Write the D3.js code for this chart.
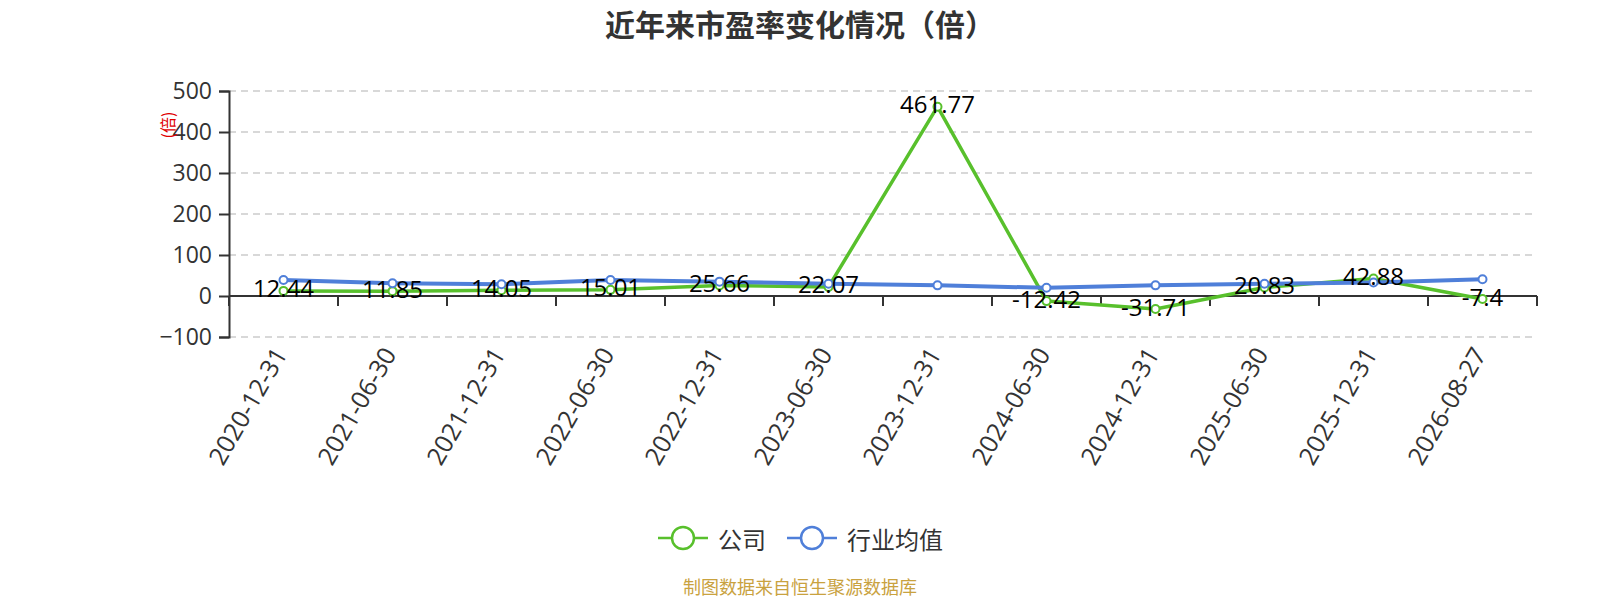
<!DOCTYPE html>
<html>
<head>
<meta charset="utf-8">
<script src="https://cdn.jsdelivr.net/npm/d3@7"></script>
<style>
  html, body { margin: 0; padding: 0; background: #fff; }
  svg { display: block; font-family: "Open Sans", "Noto Sans CJK SC", sans-serif; }
</style>
</head>
<body>
<div id="chart"></div>
<script>
// chart data
const categories = ['2020-12-31', '2021-06-30', '2021-12-31', '2022-06-30', '2022-12-31', '2023-06-30',
  '2023-12-31', '2024-06-30', '2024-12-31', '2025-06-30', '2025-12-31', '2026-08-27'];
const companyPE = [12.44, 11.85, 14.05, 15.01, 25.66, 22.07, 461.77, -12.42, -31.71, 20.83, 42.88, -7.4];
const industryPE = [39, 31, 28.5, 39, 35, 30, 26, 20, 26, 30, 33, 41];
const yTicks = [-100, 0, 100, 200, 300, 400, 500];
const seriesNames = ['公司', '行业均值'];

const width = 1600, height = 600;
const margin = { top: 91, right: 63, bottom: 263, left: 229 };
const green = '#58c02c', blue = '#4f7fd9';
const latin = '"Open Sans", "Noto Sans CJK SC", sans-serif';
const cjk = '"Noto Sans CJK SC", sans-serif';

const svg = d3.select('#chart').append('svg')
  .attr('width', width)
  .attr('height', height);

const x = d3.scaleBand()
  .domain(categories)
  .range([margin.left, width - margin.right]);

const y = d3.scaleLinear()
  .domain([-100, 500])
  .range([height - margin.bottom, margin.top]);

// title
svg.append('text')
  .attr('x', 800)
  .attr('y', 23)
  .attr('text-anchor', 'middle')
  .attr('dominant-baseline', 'central')
  .attr('font-family', cjk)
  .attr('font-size', 30)
  .attr('font-weight', 'bold')
  .attr('fill', '#333')
  .text('近年来市盈率变化情况（倍）');

// grid lines
svg.append('g')
  .selectAll('line')
  .data(yTicks.filter(d => d !== 0))
  .join('line')
  .attr('x1', margin.left)
  .attr('x2', width - margin.right)
  .attr('y1', d => y(d))
  .attr('y2', d => y(d))
  .attr('stroke', '#ccc')
  .attr('stroke-width', 1.5)
  .attr('stroke-dasharray', '7,5');

// y axis
const yAxis = svg.append('g')
  .attr('transform', `translate(${margin.left},0)`)
  .call(d3.axisLeft(y).tickValues(yTicks).tickSize(10).tickPadding(7));
yAxis.attr('font-family', latin);
yAxis.select('.domain').attr('stroke', '#333').attr('stroke-width', 2);
yAxis.selectAll('.tick line').attr('stroke', '#333').attr('stroke-width', 2);
yAxis.selectAll('.tick text')
  .attr('font-size', 23)
  .attr('fill', '#333');

// y axis unit label
svg.append('text')
  .attr('transform', 'translate(167,125) rotate(-90)')
  .attr('text-anchor', 'middle')
  .attr('dominant-baseline', 'central')
  .attr('font-family', cjk)
  .attr('font-size', 16)
  .attr('fill', '#e00000')
  .text('(倍)');

// x axis on zero line, ticks at band boundaries
const xAxis = svg.append('g')
  .attr('transform', `translate(0,${y(0)})`);
xAxis.append('line')
  .attr('x1', margin.left)
  .attr('x2', width - margin.right)
  .attr('stroke', '#333')
  .attr('stroke-width', 2);
const boundaries = categories.map(c => x(c)).concat([x.range()[1]]);
xAxis.selectAll('.xtick')
  .data(boundaries)
  .join('line')
  .attr('class', 'xtick')
  .attr('x1', d => d)
  .attr('x2', d => d)
  .attr('y1', 0)
  .attr('y2', 10)
  .attr('stroke', '#333')
  .attr('stroke-width', 2);

// x labels at the bottom, rotated
svg.append('g')
  .selectAll('text')
  .data(categories)
  .join('text')
  .attr('transform', d => `translate(${x(d) + x.bandwidth() / 2 - 4},${height - margin.bottom + 12}) rotate(-60)`)
  .attr('text-anchor', 'end')
  .attr('dominant-baseline', 'central')
  .attr('font-family', latin)
  .attr('font-size', 25)
  .attr('fill', '#333')
  .text(d => d);

// lines
const line = d3.line()
  .x((d, i) => x(categories[i]) + x.bandwidth() / 2)
  .y(d => y(d));

const series = [
  { name: seriesNames[0], values: companyPE, color: green, lineWidth: 3.5 },
  { name: seriesNames[1], values: industryPE, color: blue, lineWidth: 4 }
];

series.forEach(s => {
  svg.append('path')
    .datum(s.values)
    .attr('fill', 'none')
    .attr('stroke', s.color)
    .attr('stroke-width', s.lineWidth)
    .attr('stroke-linejoin', 'round')
    .attr('d', line);
});

series.forEach(s => {
  svg.append('g')
    .selectAll('circle')
    .data(s.values)
    .join('circle')
    .attr('cx', (d, i) => x(categories[i]) + x.bandwidth() / 2)
    .attr('cy', d => y(d))
    .attr('r', 4)
    .attr('fill', '#fff')
    .attr('stroke', s.color)
    .attr('stroke-width', 2);
});

// value labels for the company series
svg.append('g')
  .selectAll('text')
  .data(companyPE)
  .join('text')
  .attr('x', (d, i) => x(categories[i]) + x.bandwidth() / 2)
  .attr('y', d => y(d) - 3)
  .attr('text-anchor', 'middle')
  .attr('dominant-baseline', 'central')
  .attr('font-family', latin)
  .attr('font-size', 24)
  .attr('fill', '#000')
  .text(d => d);

// legend
const legendItems = [
  { name: seriesNames[0], color: green, x: 658 },
  { name: seriesNames[1], color: blue, x: 787 }
];
const legend = svg.append('g');
legendItems.forEach(item => {
  const g = legend.append('g').attr('transform', `translate(${item.x},538)`);
  g.append('line')
    .attr('x1', 0).attr('x2', 50)
    .attr('stroke', item.color)
    .attr('stroke-width', 2.5);
  g.append('circle')
    .attr('cx', 25)
    .attr('r', 11)
    .attr('fill', '#fff')
    .attr('stroke', item.color)
    .attr('stroke-width', 2.5);
  g.append('text')
    .attr('x', 60)
    .attr('dominant-baseline', 'central')
    .attr('font-family', cjk)
    .attr('font-size', 24)
    .attr('fill', '#333')
    .text(item.name);
});

// source note
svg.append('text')
  .attr('x', 800)
  .attr('y', 586)
  .attr('text-anchor', 'middle')
  .attr('dominant-baseline', 'central')
  .attr('font-family', cjk)
  .attr('font-size', 18)
  .attr('fill', '#c9a23f')
  .text('制图数据来自恒生聚源数据库');
</script>
</body>
</html>
